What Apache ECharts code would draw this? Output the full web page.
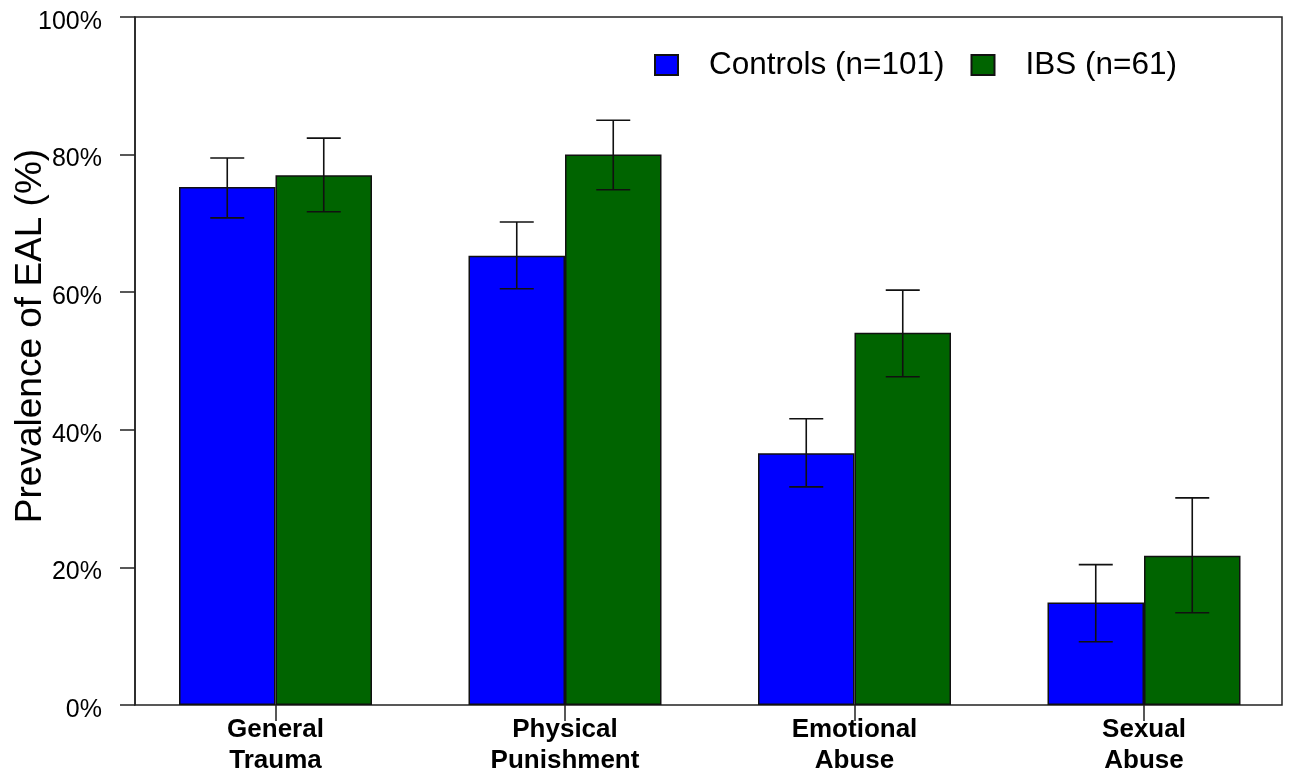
<!DOCTYPE html>
<html>
<head>
<meta charset="utf-8">
<title>Prevalence of EAL</title>
<script src="https://cdn.jsdelivr.net/npm/echarts@6/dist/echarts.min.js"></script>
<style>
  html, body { margin: 0; padding: 0; background: #fff; }
  #chart { width: 1290px; height: 776px; }
</style>
</head>
<body>
<div id="chart"></div>
<script>
// Categories of early adverse life events
const categories = ['General\nTrauma', 'Physical\nPunishment', 'Emotional\nAbuse', 'Sexual\nAbuse'];
const seriesNames = ['Controls (n=101)', 'IBS (n=61)'];

// Prevalence (%) and error bar limits
const controls = [75.3, 65.3, 36.6, 14.9];
const controlsLow = [70.8, 60.5, 31.7, 9.2];
const controlsHigh = [79.5, 70.2, 41.6, 20.4];

const ibs = [77.0, 80.0, 54.1, 21.7];
const ibsLow = [71.7, 74.9, 47.7, 13.4];
const ibsHigh = [82.4, 85.0, 60.3, 30.1];

const yTicks = [0, 20, 40, 60, 80, 100];

const FONT = '"Liberation Sans", Arial, Helvetica, sans-serif';
const chart = echarts.init(document.getElementById('chart'));

function errorBarSeries(name, low, high, side) {
  return {
    type: 'custom',
    name: name + ' error',
    xAxisIndex: 1,
    yAxisIndex: 1,
    z: 5,
    silent: true,
    data: low.map((lo, i) => [i, lo, high[i]]),
    encode: { x: 0, y: [1, 2] },
    renderItem: function (params, api) {
      const band = api.size([1, 0])[0];
      const pHi = api.coord([api.value(0), api.value(2)]);
      const pLo = api.coord([api.value(0), api.value(1)]);
      const x = pHi[0] + side * band / 6;
      const cap = 17;
      const style = { stroke: '#111', lineWidth: 1.6 };
      return {
        type: 'group',
        children: [
          { type: 'line', shape: { x1: x, y1: pHi[1], x2: x, y2: pLo[1] }, style },
          { type: 'line', shape: { x1: x - cap, y1: pHi[1], x2: x + cap, y2: pHi[1] }, style },
          { type: 'line', shape: { x1: x - cap, y1: pLo[1], x2: x + cap, y2: pLo[1] }, style }
        ]
      };
    }
  };
}

const option = {
  backgroundColor: '#fff',
  animation: false,
  textStyle: { fontFamily: FONT, color: '#000' },
  legend: {
    left: 649,
    top: 44,
    itemWidth: 23,
    itemHeight: 20,
    itemGap: 26,
    icon: 'rect',
    data: seriesNames,
    textStyle: { fontSize: 31.5, color: '#000', fontFamily: FONT, padding: [0, 0, 0, 26] }
  },
  grid: [
    // framed plotting region
    { left: 135, right: 8, top: 17, bottom: 71, show: true, borderColor: '#222', borderWidth: 1.5,
      backgroundColor: 'transparent', outerBoundsMode: 'none', containLabel: false },
    // bar layout region (category bands)
    { left: 130.75, width: 1158, top: 17, bottom: 71, show: false, outerBoundsMode: 'none', containLabel: false }
  ],
  xAxis: [
    { type: 'value', gridIndex: 0, min: 0, max: 1, show: false },
    {
      type: 'category',
      gridIndex: 1,
      data: categories,
      axisLine: { show: false },
      axisTick: { show: true, alignWithLabel: true, length: 16, lineStyle: { color: '#222', width: 1.5 } },
      axisLabel: {
        margin: 9,
        fontSize: 26,
        fontWeight: 'bold',
        lineHeight: 31,
        color: '#000',
        fontFamily: FONT
      }
    }
  ],
  yAxis: [
    {
      type: 'value',
      gridIndex: 0,
      min: 0,
      max: 100,
      interval: 20,
      name: 'Prevalence of EAL (%)',
      nameLocation: 'middle',
      nameGap: 86,
      nameMoveOverlap: false,
      nameTextStyle: { fontSize: 37, color: '#000', fontFamily: FONT, padding: [0, 0, 0, 50] },
      axisLine: { show: true, lineStyle: { color: '#222', width: 1.5 } },
      axisTick: { show: true, inside: false, length: 15, lineStyle: { color: '#222', width: 1.5 } },
      axisLabel: {
        margin: 33,
        fontSize: 25,
        color: '#000',
        fontFamily: FONT,
        verticalAlign: 'top',
        lineHeight: 10,
        formatter: v => (yTicks.includes(v) ? v + '%' : '')
      },
      splitLine: { show: false }
    },
    { type: 'value', gridIndex: 1, min: 0, max: 100, interval: 20, show: false }
  ],
  series: [
    {
      name: seriesNames[0],
      type: 'bar',
      xAxisIndex: 1,
      yAxisIndex: 1,
      data: controls,
      barWidth: 96.5,
      barGap: '0%',
      itemStyle: { color: '#0000ff', borderColor: '#111', borderWidth: 1.5 }
    },
    {
      name: seriesNames[1],
      type: 'bar',
      xAxisIndex: 1,
      yAxisIndex: 1,
      data: ibs,
      barWidth: 96.5,
      barGap: '0%',
      itemStyle: { color: '#006400', borderColor: '#111', borderWidth: 1.5 }
    },
    errorBarSeries(seriesNames[0], controlsLow, controlsHigh, -1),
    errorBarSeries(seriesNames[1], ibsLow, ibsHigh, 1)
  ]
};

chart.setOption(option);
</script>
</body>
</html>
